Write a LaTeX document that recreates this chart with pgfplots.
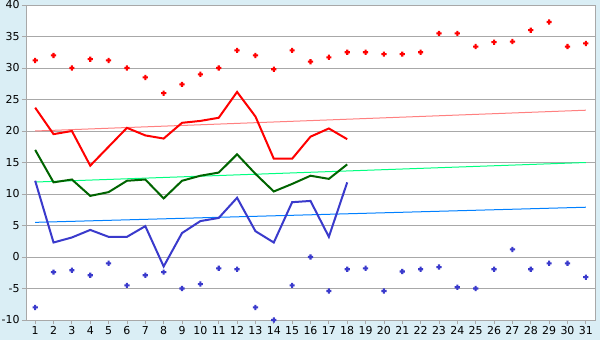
\documentclass[border=0pt]{standalone}
\usepackage{pgfplots}
\pgfplotsset{compat=1.18}
\usepackage{fontspec}
\setmainfont{DejaVu Sans}
\definecolor{bgblue}{HTML}{DAEEF5}
\definecolor{gridgray}{HTML}{A8A8A8}
\definecolor{maxred}{HTML}{FF0000}
\definecolor{avggreen}{HTML}{006400}
\definecolor{minblue}{HTML}{3A3ACC}
\definecolor{trendred}{HTML}{FF8080}
\definecolor{trendgreen}{HTML}{00FF80}
\definecolor{trendblue}{HTML}{0080FF}
\pgfdeclareplotmark{fatplus}{%
  \pgfpathrectangle{\pgfpoint{-\pgfplotmarksize}{-0.4\pgfplotmarksize}}{\pgfpoint{2\pgfplotmarksize}{0.8\pgfplotmarksize}}%
  \pgfpathrectangle{\pgfpoint{-0.4\pgfplotmarksize}{-\pgfplotmarksize}}{\pgfpoint{0.8\pgfplotmarksize}{2\pgfplotmarksize}}%
  \pgfusepathqfill}
\begin{document}
\begin{tikzpicture}
\fill[bgblue] (-26bp,-20bp) rectangle (574bp,320bp);
\useasboundingbox (-26bp,-20bp) rectangle (574bp,320bp);
\begin{axis}[
  scale only axis, width=569bp, height=315bp,
  at={(0,0)}, anchor=south west,
  xmin=0.5, xmax=31.5, ymin=-10, ymax=40,
  xtick={1,...,31}, ytick={-10,-5,...,40},
  axis background/.style={fill=white},
  axis line style={gridgray, line width=0.8bp},
  ymajorgrids, major grid style={gridgray, line width=0.8bp},
  tick align=outside, tick pos=left,
  major tick length=4bp,
  every tick/.style={gridgray, line width=0.8bp},
  tick label style={font=\fontsize{11}{13}\selectfont, text=black},
  /pgf/number format/assume math mode=true,
  xticklabel style={yshift=1.5bp},
  yticklabel style={xshift=1bp},
  clip=false,
]
% trend lines
\addplot[trendred, line width=1bp] coordinates {(1,20.0) (31,23.3)};
\addplot[trendgreen, line width=1bp] coordinates {(1,11.9) (31,15.0)};
\addplot[trendblue, line width=1bp] coordinates {(1,5.5) (31,7.9)};
% max line
\addplot[maxred, line width=2bp] coordinates {
(1,23.7)(2,19.5)(3,20.0)(4,14.5)(5,17.5)(6,20.5)(7,19.3)(8,18.8)(9,21.3)(10,21.6)
(11,22.1)(12,26.2)(13,22.3)(14,15.6)(15,15.6)(16,19.1)(17,20.4)(18,18.7)};
% avg line
\addplot[avggreen, line width=2bp] coordinates {
(1,17.0)(2,11.85)(3,12.3)(4,9.7)(5,10.3)(6,12.1)(7,12.3)(8,9.3)(9,12.1)(10,12.9)
(11,13.4)(12,16.3)(13,13.2)(14,10.4)(15,11.6)(16,12.9)(17,12.4)(18,14.7)};
% min line
\addplot[minblue, line width=2bp] coordinates {
(1,12.1)(2,2.3)(3,3.1)(4,4.3)(5,3.2)(6,3.2)(7,4.9)(8,-1.5)(9,3.8)(10,5.7)
(11,6.2)(12,9.4)(13,4.1)(14,2.3)(15,8.7)(16,8.9)(17,3.2)(18,11.85)};
% max dots
\addplot[only marks, mark=fatplus, mark size=2.6bp, maxred] coordinates {
(1,31.2)(2,32.0)(3,30.0)(4,31.4)(5,31.2)(6,30.0)(7,28.5)(8,26.0)(9,27.4)(10,29.0)
(11,30.0)(12,32.8)(13,32.0)(14,29.8)(15,32.8)(16,31.0)(17,31.7)(18,32.5)(19,32.5)(20,32.2)
(21,32.2)(22,32.5)(23,35.5)(24,35.5)(25,33.4)(26,34.1)(27,34.2)(28,36.0)(29,37.3)(30,33.4)(31,33.9)};
% min dots
\addplot[only marks, mark=fatplus, mark size=2.6bp, minblue] coordinates {
(1,-8.0)(2,-2.4)(3,-2.1)(4,-2.9)(5,-1.0)(6,-4.5)(7,-2.9)(8,-2.4)(9,-5.0)(10,-4.3)
(11,-1.8)(12,-1.95)(13,-8.0)(14,-10.0)(15,-4.5)(16,0.0)(17,-5.4)(18,-1.95)(19,-1.8)(20,-5.4)
(21,-2.3)(22,-1.95)(23,-1.6)(24,-4.8)(25,-5.0)(26,-1.95)(27,1.2)(28,-1.95)(29,-1.0)(30,-1.0)(31,-3.2)};
\end{axis}
\end{tikzpicture}
\end{document}
